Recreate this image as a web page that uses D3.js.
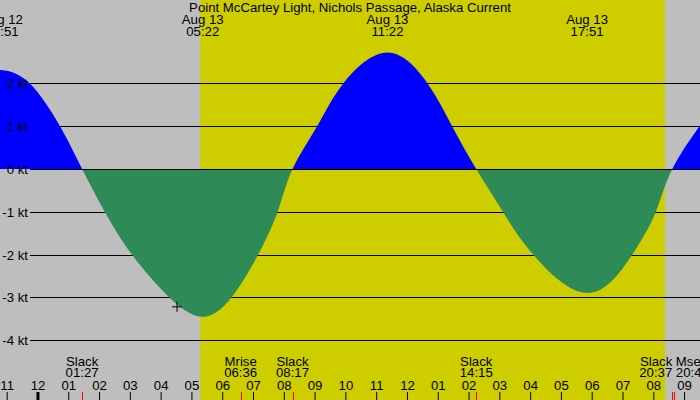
<!DOCTYPE html>
<html>
<head>
<meta charset="utf-8">
<script src="https://cdn.jsdelivr.net/npm/d3@7"></script>
<style>
  body { margin: 0; background: #fff; }
  svg text { font-family: "Liberation Sans", Arial, sans-serif; font-size: 13.2px; fill: #000; }
</style>
</head>
<body>
<div id="chart"></div>
<script>
const width = 700;
const height = 400;

const title = "Point McCartey Light, Nichols Passage, Alaska Current";

// current speed (kt) where the curve crosses the grid, plus the extremes
const curveTimes = [
  "08-12 22:15", "08-12 22:51", "08-12 23:45", "08-13 00:44", "08-13 01:27", "08-13 02:11",
  "08-13 03:04", "08-13 04:17", "08-13 05:22", "08-13 06:18", "08-13 07:10", "08-13 07:48",
  "08-13 08:17", "08-13 09:05", "08-13 09:56", "08-13 11:22", "08-13 12:40", "08-13 13:28",
  "08-13 14:15", "08-13 15:07", "08-13 16:06", "08-13 17:52", "08-13 19:19", "08-13 20:05",
  "08-13 20:37", "08-13 21:30", "08-13 22:10"];
const curveValues = [
  2.2, 2.31, 2.0, 1.0, 0, -1,
  -2, -3, -3.45, -3, -2, -1,
  0, 1, 2, 2.72, 2, 1,
  0, -1, -2, -2.9, -2, -1,
  0, 1, 1.7];

// max flood / ebb times shown on top
const extremaTimes = ["08-12 22:51", "08-13 05:22", "08-13 11:22", "08-13 17:51"];

// events along the bottom
const eventNames = ["Slack", "Mrise", "Slack", "Slack", "Slack", "Mset"];
const eventTimes = ["08-13 01:27", "08-13 06:36", "08-13 08:17", "08-13 14:15", "08-13 20:37", "08-13 20:40"];

const sunrise = "08-13 05:17";
const sunset = "08-13 20:23";
const nowTime = "08-13 04:32";
const nowValue = -3.22;

const yTicks = [-4, -3, -2, -1, 0, 1, 2];

const parse = d3.timeParse("%m-%d %H:%M");
const fmtDay = d3.timeFormat("%b %d");
const fmtTime = d3.timeFormat("%H:%M");

const data = curveTimes.map((t, i) => ({ t: parse(t), v: curveValues[i] }));

const x = d3.scaleTime()
  .domain([parse("08-12 22:47"), parse("08-13 21:31")])
  .range([0, width]);

const y = d3.scaleLinear()
  .domain([-4, 2])
  .range([340.2, 83.4]);

const svg = d3.select("#chart")
  .append("svg")
  .attr("width", width)
  .attr("height", height);

// night / day background
svg.append("rect")
  .attr("width", width).attr("height", height)
  .attr("fill", "#bebebe");

svg.append("rect")
  .attr("x", x(parse(sunrise)))
  .attr("width", x(parse(sunset)) - x(parse(sunrise)))
  .attr("height", height)
  .attr("fill", "#cdcd00");

// grid lines (behind the fill, except zero)
svg.selectAll("line.grid")
  .data(yTicks.filter(d => d !== 0))
  .join("line")
  .attr("class", "grid")
  .attr("x1", 30).attr("x2", width)
  .attr("y1", d => Math.round(y(d)) + 0.5)
  .attr("y2", d => Math.round(y(d)) + 0.5)
  .attr("stroke", "#000")
  .attr("stroke-width", 1);

// current area, blue for flood, green for ebb
const area = d3.area()
  .x(d => x(d.t))
  .y0(y(0))
  .y1(d => y(d.v))
  .curve(d3.curveNatural);

const defs = svg.append("defs");
defs.append("clipPath").attr("id", "clipPos")
  .append("rect").attr("x", 0).attr("y", 0).attr("width", width).attr("height", y(0));
defs.append("clipPath").attr("id", "clipNeg")
  .append("rect").attr("x", 0).attr("y", y(0)).attr("width", width).attr("height", height - y(0));

svg.append("path")
  .datum(data)
  .attr("d", area)
  .attr("fill", "#0000ff")
  .attr("clip-path", "url(#clipPos)");

svg.append("path")
  .datum(data)
  .attr("d", area)
  .attr("fill", "#2e8b57")
  .attr("clip-path", "url(#clipNeg)");

// zero line
svg.append("line")
  .attr("x1", 30).attr("x2", width)
  .attr("y1", Math.round(y(0)) + 0.5).attr("y2", Math.round(y(0)) + 0.5)
  .attr("stroke", "#000");

// y labels
svg.selectAll("text.ylab")
  .data(yTicks)
  .join("text")
  .attr("class", "ylab")
  .attr("x", 28)
  .attr("y", d => y(d) + 5)
  .attr("text-anchor", "end")
  .text(d => `${d} kt`);

// "now" marker
const nx = x(parse(nowTime)), ny = y(nowValue);
svg.append("path")
  .attr("d", `M${nx - 5},${ny}H${nx + 5}M${nx},${ny - 5}V${ny + 5}`)
  .attr("stroke", "#000")
  .attr("fill", "none");

// title
svg.append("text")
  .attr("x", width / 2).attr("y", 12)
  .attr("text-anchor", "middle")
  .text(title);

// extremes on top
const extLab = svg.selectAll("g.ext")
  .data(extremaTimes.map(parse))
  .join("g")
  .attr("class", "ext")
  .attr("transform", d => `translate(${x(d)},0)`);
extLab.append("text").attr("y", 24).attr("text-anchor", "middle").text(d => fmtDay(d));
extLab.append("text").attr("y", 36).attr("text-anchor", "middle").text(d => fmtTime(d));

// hour axis at the bottom
const axis = svg.append("g")
  .attr("transform", `translate(0,${height})`)
  .call(d3.axisTop(x).ticks(d3.timeHour.every(1)).tickFormat(d3.timeFormat("%I")).tickSize(8).tickPadding(2));
axis.select(".domain").remove();
axis.selectAll("text").style("font-size", "13.2px").attr("fill", "#000");
axis.selectAll(".tick line")
  .attr("stroke", "#000")
  .attr("stroke-width", d => d.getHours() === 0 ? 3 : 1);

// event ticks and labels
const events = eventTimes.map((t, i) => ({ t: parse(t), name: eventNames[i] }));
svg.selectAll("line.ev")
  .data(events)
  .join("line")
  .attr("class", "ev")
  .attr("x1", d => Math.round(x(d.t)) + 0.5).attr("x2", d => Math.round(x(d.t)) + 0.5)
  .attr("y1", 392).attr("y2", height)
  .attr("stroke", "#ff0000");

const anchorFor = i => {
  if (i < events.length - 1 && x(events[i + 1].t) - x(events[i].t) < 25) return "end";
  if (i > 0 && x(events[i].t) - x(events[i - 1].t) < 25) return "start";
  return "middle";
};
const evLab = svg.selectAll("g.evlab")
  .data(events)
  .join("g")
  .attr("class", "evlab")
  .attr("transform", (d, i) => {
    const a = anchorFor(i);
    const dx = a === "end" ? 0 : a === "start" ? 2 : 0;
    return `translate(${x(d.t) + dx},0)`;
  });
evLab.append("text").attr("y", 366).attr("text-anchor", (d, i) => anchorFor(i)).text(d => d.name);
evLab.append("text").attr("y", 377).attr("text-anchor", (d, i) => anchorFor(i)).text(d => fmtTime(d.t));
</script>
</body>
</html>
